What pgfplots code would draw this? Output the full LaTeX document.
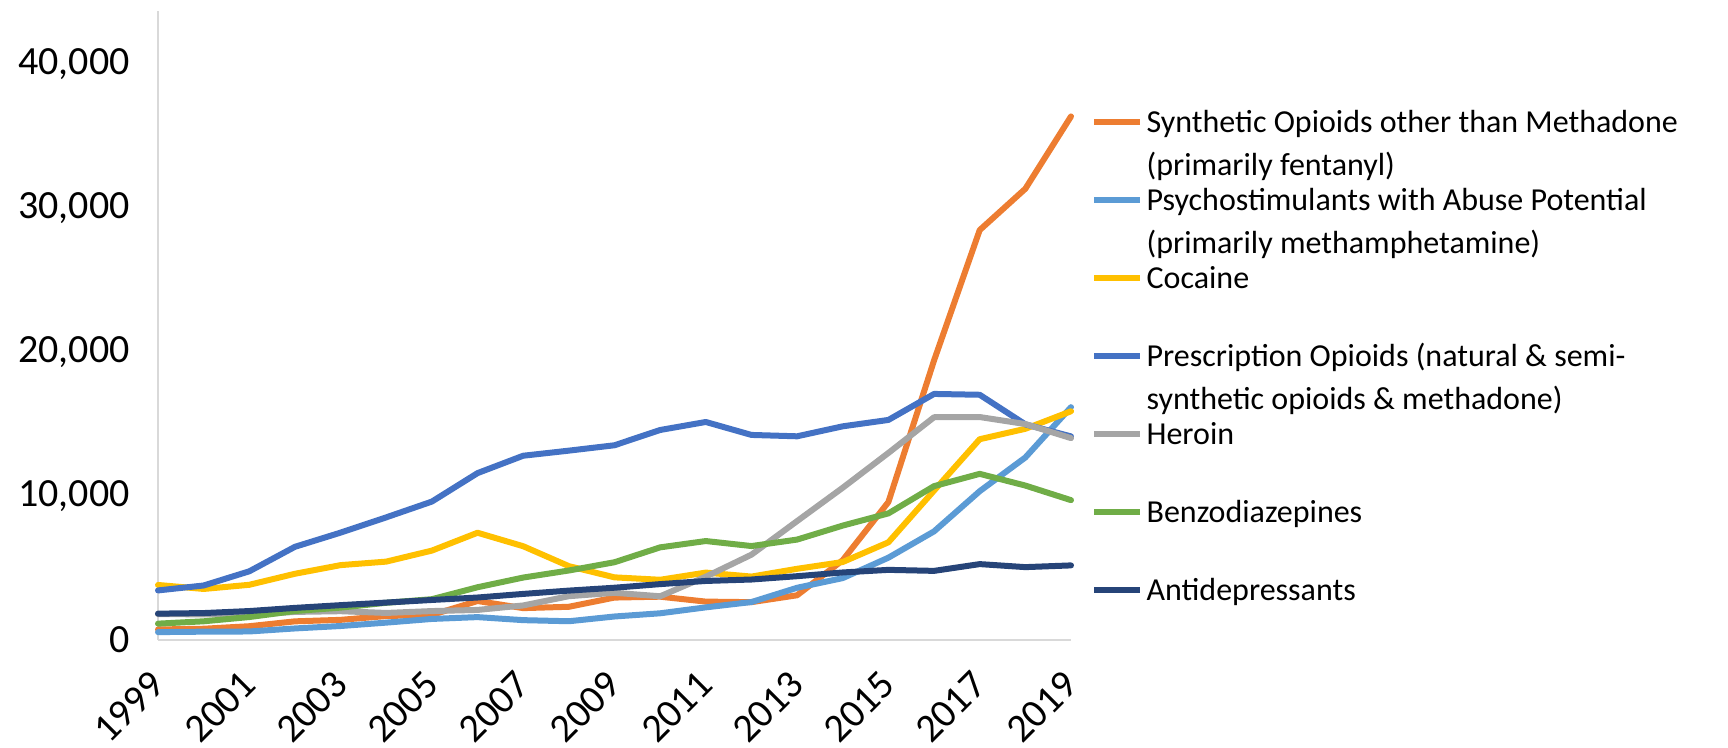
\documentclass[border=0pt]{standalone}
\usepackage{fontspec}
\setmainfont{Carlito}
\usepackage{pgfplots}
\pgfplotsset{compat=1.18}
\definecolor{cOrange}{HTML}{ED7D31}
\definecolor{cLBlue}{HTML}{5B9BD5}
\definecolor{cYellow}{HTML}{FFC000}
\definecolor{cBlue}{HTML}{4472C4}
\definecolor{cGray}{HTML}{A5A5A5}
\definecolor{cGreen}{HTML}{70AD47}
\definecolor{cNavy}{HTML}{264478}
\definecolor{cAxis}{HTML}{D9D9D9}

\pgfplotstableread{
year synth psycho cocaine presc heroin benzo antidep
1999 730 547 3822 3442 1800 1135 1830
2000 782 578 3544 3785 1780 1298 1870
2001 957 592 3833 4770 1750 1594 2010
2002 1295 802 4599 6471 1950 2012 2230
2003 1400 971 5199 7456 2000 2248 2420
2004 1664 1206 5443 8517 1878 2585 2600
2005 1742 1462 6208 9612 2009 2834 2780
2006 2707 1589 7448 11589 2088 3663 2950
2007 2213 1378 6512 12796 2399 4336 3200
2008 2306 1302 5129 13149 3041 4826 3430
2009 2946 1632 4350 13523 3278 5400 3630
2010 3007 1854 4183 14583 3036 6433 3880
2011 2666 2266 4681 15140 4397 6872 4100
2012 2628 2635 4404 14240 5925 6524 4200
2013 3105 3627 4944 14145 8257 6973 4430
2014 5544 4298 5415 14838 10574 7945 4690
2015 9580 5716 6784 15281 12989 8791 4870
2016 19413 7542 10375 17087 15469 10684 4800
2017 28466 10333 13942 17029 15482 11537 5270
2018 31335 12676 14666 14975 14996 10724 5060
2019 36359 16167 15883 14139 14019 9711 5180
}\datatable

\begin{document}
\begin{tikzpicture}
\begin{axis}[
  name=ax,
  scale only axis,
  width=456.5pt, height=314.5pt,
  xmin=1999, xmax=2019, ymin=0, ymax=43680,
  axis lines*=left,
  axis line style={draw=cAxis, line width=1pt},
  xtick={1999,2001,...,2019},
  ytick={0,10000,20000,30000,40000},
  major tick length=0pt,
  scaled y ticks=false,
  tick label style={font=\fontsize{20}{24}\selectfont},
  x tick label style={/pgf/number format/1000 sep={}, /pgf/number format/assume math mode=true},
  y tick label style={/pgf/number format/1000 sep={,}, /pgf/number format/assume math mode=true},
  xticklabel style={rotate=45, anchor=east, inner sep=0pt},
  xticklabel shift=19pt,
  yticklabel style={anchor=east, inner sep=0pt},
  yticklabel shift=14pt,
  clip=false,
  every axis plot/.append style={line width=3pt, line join=round, line cap=round},
  legend image code/.code={\draw[#1, line width=2.6pt, line cap=butt] (0pt,0pt) -- (23pt,0pt);},
  legend cell align=left,
  legend style={
    at={(rel axis cs:1,0.8862)}, anchor=north west, xshift=10pt,
    draw=none, fill=none, inner sep=0pt, row sep=0pt, column sep=2pt,
    font=\fontsize{16}{21.5}\selectfont,
    nodes={inner sep=0pt, text height=24.65pt, text depth=14.35pt},
  },
]
\addplot[color=cOrange] table[x=year, y=synth] {\datatable};
\addlegendentry{\begin{tabular}[t]{@{}l@{}}Synthetic Opioids other than Methadone\\(primarily fentanyl)\end{tabular}}
\addplot[color=cLBlue] table[x=year, y=psycho] {\datatable};
\addlegendentry{\begin{tabular}[t]{@{}l@{}}Psychostimulants with Abuse Potential\\(primarily methamphetamine)\end{tabular}}
\addplot[color=cYellow] table[x=year, y=cocaine] {\datatable};
\addlegendentry{Cocaine}
\addplot[color=cBlue] table[x=year, y=presc] {\datatable};
\addlegendentry{\begin{tabular}[t]{@{}l@{}}Prescription Opioids (natural \& semi-\\synthetic opioids \& methadone)\end{tabular}}
\addplot[color=cGray] table[x=year, y=heroin] {\datatable};
\addlegendentry{Heroin}
\addplot[color=cGreen] table[x=year, y=benzo] {\datatable};
\addlegendentry{Benzodiazepines}
\addplot[color=cNavy] table[x=year, y=antidep] {\datatable};
\addlegendentry{Antidepressants}
\coordinate (ll) at (rel axis cs:0,0);
\end{axis}
\pgfresetboundingbox
\path[use as bounding box] ([xshift=-79pt,yshift=-54pt]ll) rectangle ++(864pt,374pt);
\end{tikzpicture}
\end{document}
